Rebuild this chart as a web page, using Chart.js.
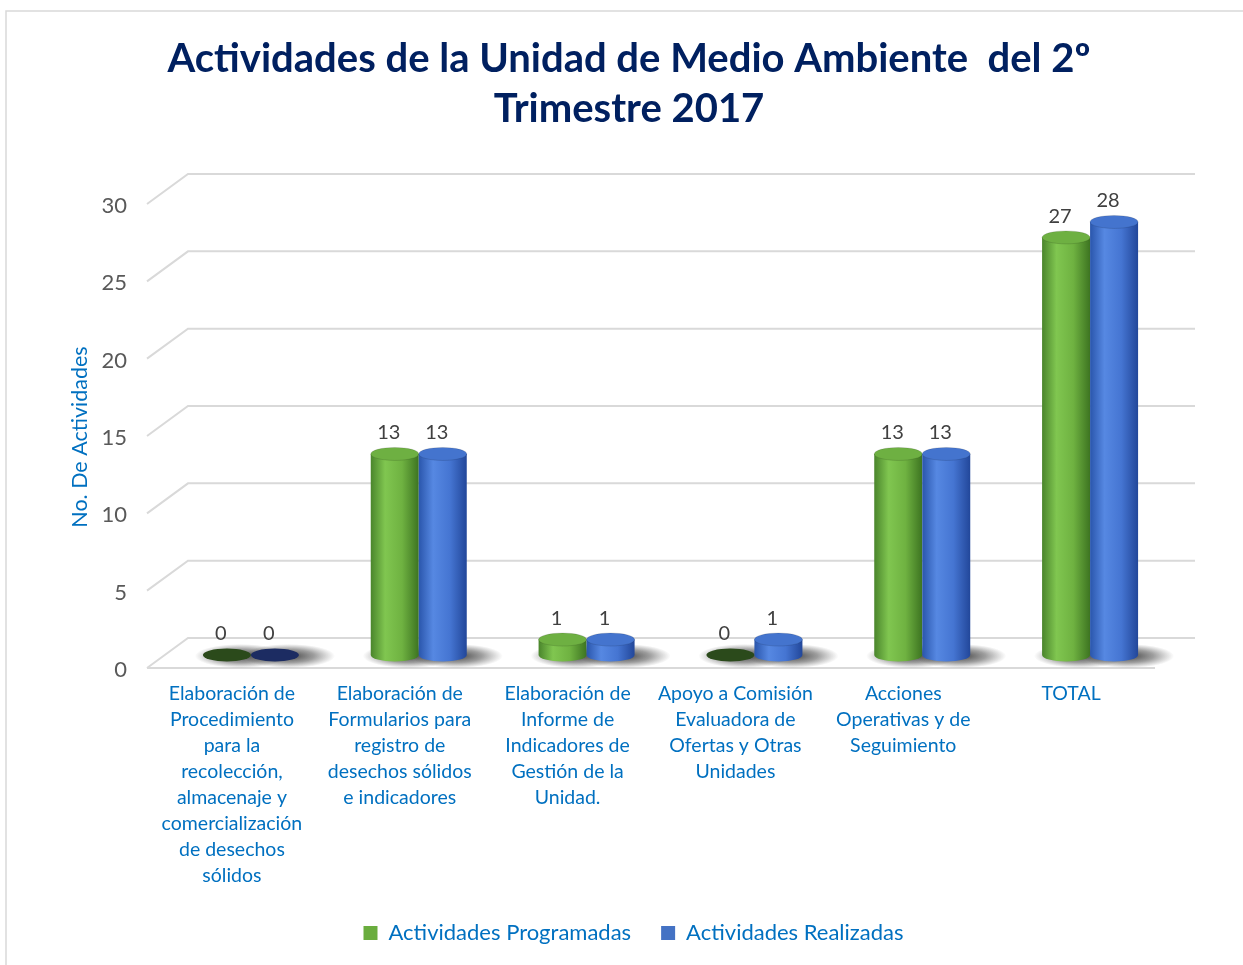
<!DOCTYPE html>
<html>
<head>
<meta charset="utf-8">
<script src="https://cdn.jsdelivr.net/npm/chart.js@4/dist/chart.umd.min.js"></script>
<style>
  html, body { margin: 0; padding: 0; background: #fff; }
  #wrap { width: 1243px; height: 965px; position: relative; }
</style>
</head>
<body>
<div id="wrap"><canvas id="myChart" width="1243" height="965"></canvas></div>
<script>
// data
var titulo = ['Actividades de la Unidad de Medio Ambiente  del 2º', 'Trimestre 2017'];
var ejeY = 'No. De Actividades';
var categorias = [
    ['Elaboración de', 'Procedimiento', 'para la', 'recolección,', 'almacenaje y', 'comercialización', 'de desechos', 'sólidos'],
    ['Elaboración de', 'Formularios para', 'registro de', 'desechos sólidos', 'e indicadores'],
    ['Elaboración de', 'Informe de', 'Indicadores de', 'Gestión de la', 'Unidad.'],
    ['Apoyo a Comisión', 'Evaluadora de', 'Ofertas y Otras', 'Unidades'],
    ['Acciones', 'Operativas y de', 'Seguimiento'],
    'TOTAL'
];
var programadas = [0, 13, 1, 0, 13, 27];
var realizadas = [0, 13, 1, 1, 13, 28];
var yTicks = [0, 5, 10, 15, 20, 25, 30];

var FONT = 'Lato, "Open Sans", sans-serif';

// colours for the cylinders
var estilos = [
    { body: ['#4a852c', '#80c650', '#6fb241', '#3d7421'], top: '#6eb042', zero: '#2b4a1b', legend: '#6aad3e' },
    { body: ['#2a56ac', '#5688e2', '#4575d2', '#22479a'], top: '#4474ce', zero: '#1c2c62', legend: '#4472c4' }
];

var gridPlugin = {
    id: 'grid3d',
    afterLayout: function (chart) {
        // legend centred on the whole picture, not on the padded box
        chart.legend.left += 44;
        chart.legend.right += 44;
    },
    beforeDatasetsDraw: function (chart) {
        var c = chart.ctx, a = chart.chartArea, ys = chart.scales.y;
        c.save();
        // outer border
        c.strokeStyle = '#d9d9d9';
        c.lineWidth = 1.5;
        c.strokeRect(6, 11, 1300, 1000);
        c.lineWidth = 2;
        yTicks.forEach(function (v) {
            var yb = ys.getPixelForValue(v);
            c.beginPath();
            c.moveTo(a.left - 20, yb + 13);
            c.lineTo(a.left + 21, yb - 17);
            c.lineTo(a.right + 21, yb - 17);
            c.stroke();
            if (v === 0) {
                c.beginPath();
                c.moveTo(a.left - 20, yb + 13);
                c.lineTo(a.right - 19, yb + 13);
                c.stroke();
            }
        });
        c.restore();

        // shadows on the floor
        chart.data.datasets.forEach(function (ds, i) {
            chart.getDatasetMeta(i).data.forEach(function (bar) {
                var rx = bar.width / 2 + 22, ry = 12;
                var cx = bar.x + 14, cy = bar.base + 1;
                c.save();
                c.translate(cx, cy);
                c.scale(1, ry / rx);
                var g = c.createRadialGradient(0, 0, 0, 0, 0, rx);
                g.addColorStop(0, 'rgba(20,20,20,0.8)');
                g.addColorStop(0.55, 'rgba(40,40,40,0.45)');
                g.addColorStop(1, 'rgba(60,60,60,0)');
                c.fillStyle = g;
                c.beginPath();
                c.arc(0, 0, rx, 0, Math.PI * 2);
                c.fill();
                c.restore();
            });
        });

        // cylinders
        chart.data.datasets.forEach(function (ds, i) {
            var st = estilos[i];
            chart.getDatasetMeta(i).data.forEach(function (bar, j) {
                var w = bar.width, rx = w / 2, ry = 6.5;
                var x0 = bar.x - rx, x1 = bar.x + rx;
                var yt = bar.y, yb = bar.base;
                c.save();
                if (ds.data[j] === 0) {
                    c.fillStyle = st.zero;
                    c.beginPath();
                    c.ellipse(bar.x, yb, rx, ry, 0, 0, Math.PI * 2);
                    c.fill();
                } else {
                    var g = c.createLinearGradient(x0, 0, x1, 0);
                    g.addColorStop(0, st.body[0]);
                    g.addColorStop(0.3, st.body[1]);
                    g.addColorStop(0.65, st.body[2]);
                    g.addColorStop(1, st.body[3]);
                    c.fillStyle = g;
                    c.beginPath();
                    c.moveTo(x0, yt);
                    c.lineTo(x0, yb);
                    c.ellipse(bar.x, yb, rx, ry, 0, Math.PI, 0, true);
                    c.lineTo(x1, yt);
                    c.closePath();
                    c.fill();
                    c.fillStyle = st.top;
                    c.beginPath();
                    c.ellipse(bar.x, yt, rx, ry, 0, 0, Math.PI * 2);
                    c.fill();
                    c.strokeStyle = 'rgba(0,0,0,0.12)';
                    c.lineWidth = 1;
                    c.stroke();
                }
                c.restore();
                // value label
                c.save();
                c.fillStyle = '#404040';
                c.font = '20px ' + FONT;
                c.textAlign = 'center';
                c.textBaseline = 'middle';
                c.fillText(String(ds.data[j]), bar.x - 6, yt - 21);
                c.restore();
            });
        });
        return false;
    },
    afterDraw: function (chart) {
        var c = chart.ctx;
        c.save();
        // title
        c.fillStyle = '#002060';
        c.font = 'bold 40px ' + FONT;
        c.textAlign = 'center';
        c.textBaseline = 'middle';
        c.fillText(titulo[0], 629, 59);
        c.fillText(titulo[1], 629, 109);
        // y axis title
        c.translate(80, 437);
        c.rotate(-Math.PI / 2);
        c.fillStyle = '#0070c0';
        c.font = '21.5px ' + FONT;
        c.fillText(ejeY, 0, 0);
        c.restore();
    }
};

var ctx = document.getElementById('myChart').getContext('2d');
var myChart = new Chart(ctx, {
    type: 'bar',
    data: {
        labels: categorias,
        datasets: [{
            label: 'Actividades Programadas',
            data: programadas,
            backgroundColor: estilos[0].legend
        }, {
            label: 'Actividades Realizadas',
            data: realizadas,
            backgroundColor: estilos[1].legend
        }]
    },
    plugins: [gridPlugin],
    options: {
        responsive: false,
        animation: false,
        categoryPercentage: 0.572,
        barPercentage: 1,
        layout: { padding: { left: 5, right: 69, top: 191, bottom: 11 } },
        plugins: {
            title: { display: false },
            legend: {
                position: 'bottom',
                labels: {
                    color: '#0070c0',
                    font: { family: FONT, size: 22 },
                    boxWidth: 14,
                    boxHeight: 14,
                    padding: 30
                }
            },
            tooltip: { enabled: false }
        },
        scales: {
            x: {
                grid: { display: false, drawTicks: false },
                border: { display: false },
                ticks: {
                    color: '#0070c0',
                    font: { family: FONT, size: 19.5, lineHeight: 1.333 },
                    padding: 26,
                    labelOffset: -19,
                    maxRotation: 0,
                    autoSkip: false
                },
                afterFit: function (s) { s.height = 237; }
            },
            y: {
                min: 0,
                max: 30,
                grid: { display: false, drawTicks: false },
                border: { display: false },
                ticks: {
                    stepSize: 5,
                    color: '#595959',
                    font: { family: FONT, size: 22 },
                    padding: 40,
                    labelOffset: 15
                },
                afterFit: function (s) { s.width = 162; }
            }
        }
    }
});
</script>
</body>
</html>
